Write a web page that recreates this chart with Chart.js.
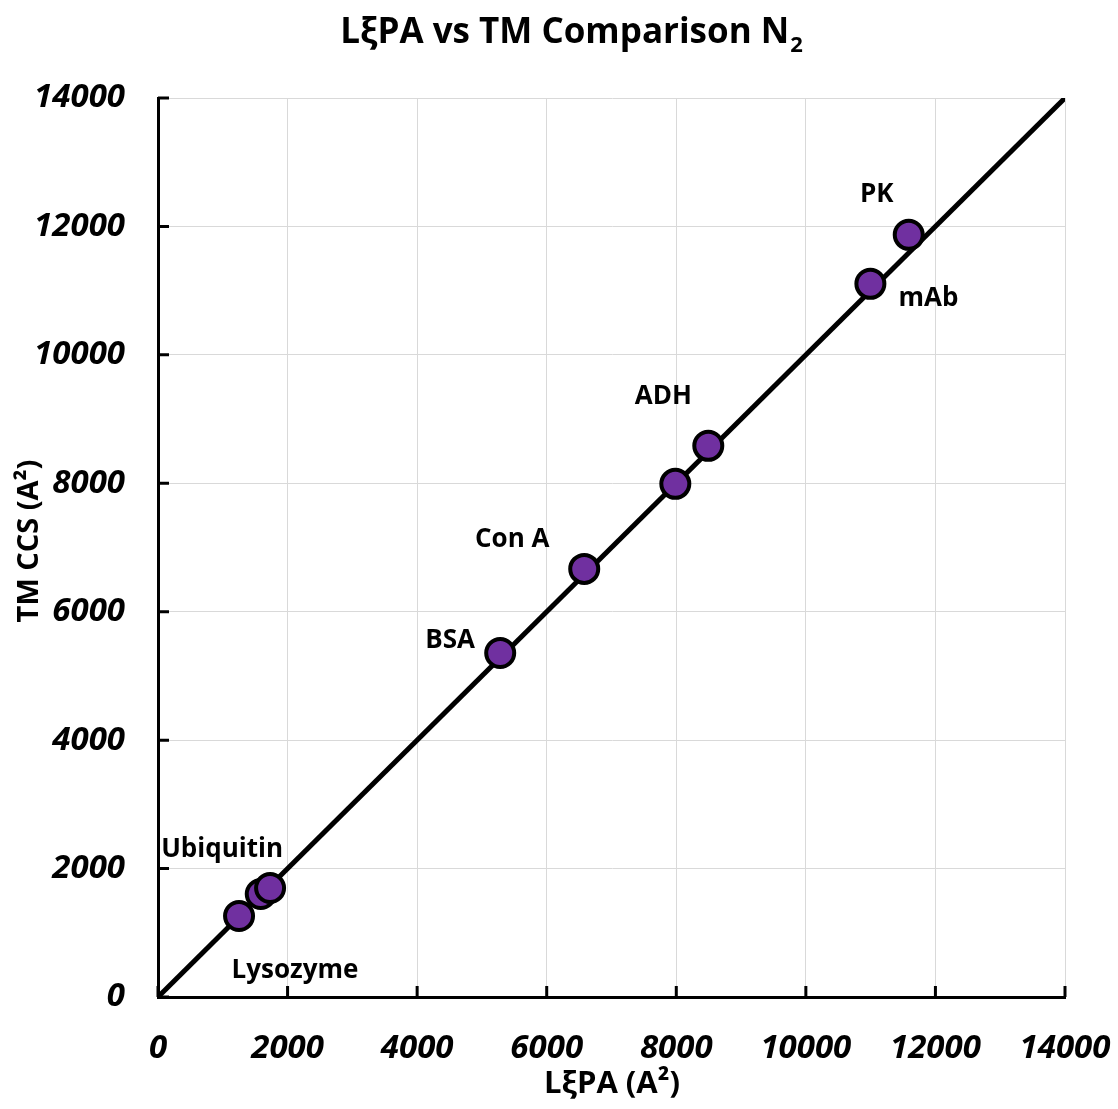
<!DOCTYPE html>
<html>
<head>
<meta charset="utf-8">
<title>LξPA vs TM Comparison N2</title>
<script src="https://cdn.jsdelivr.net/npm/chart.js@4/dist/chart.umd.min.js"></script>
<style>
  html, body { margin: 0; padding: 0; background: #fff; }
  #wrap { width: 1118px; height: 1109px; }
</style>
</head>
<body>
<div id="wrap"><canvas id="cmp"></canvas></div>
<script>
// CCS values (A^2), LξPA on x, trapped mobility on y
const lxpaCCS = [1251, 1586, 1730, 5282, 6579, 7985, 8494, 10996, 11588];
const tmCCS   = [1262, 1604, 1698, 5358, 6667, 7991, 8583, 11106, 11869];
const proteinNames = ['', '', 'Ubiquitin', 'BSA', 'Con A', '', 'ADH', 'mAb', 'PK'];
// where each name sits relative to its point, in px
const nameOffsets = [[0, 0], [0, 0], [-48, -38], [-50, -12], [-72, -29], [0, 0], [-45, -49], [58, 15], [-32, -40]];
// lysozyme label sits under the low cluster
const lysoIndex = 0;
const lysoOffset = [56, 55];

// y = x reference line
const unityLine = [0, 14000];

const axisMin = 0, axisMax = 14000, axisStep = 2000;

const FONT = '"Open Sans", Lato, sans-serif';

// titles drawn by hand so they sit where we want them
const titlesPlugin = {
  id: 'titles',
  afterDraw(chart) {
    const ctx = chart.ctx;
    ctx.save();
    ctx.fillStyle = '#000';
    ctx.textBaseline = 'middle';
    ctx.textAlign = 'center';

    // main title with subscript 2
    ctx.font = 'bold 35px ' + FONT;
    const main = 'LξPA vs TM Comparison N';
    const w = ctx.measureText(main).width;
    ctx.font = 'bold 22px ' + FONT;
    const sw = ctx.measureText('2').width;
    const tx = 571 - (w + sw) / 2;
    ctx.textAlign = 'left';
    ctx.font = 'bold 35px ' + FONT;
    ctx.fillText(main, tx, 33);
    ctx.font = 'bold 22px ' + FONT;
    ctx.fillText('2', tx + w + 1, 46);

    // axis titles
    ctx.textAlign = 'center';
    ctx.font = 'bold 31px ' + FONT;
    ctx.fillText('LξPA (A²)', 612, 1084);
    ctx.font = 'bold 29px ' + FONT;
    ctx.translate(30, 541);
    ctx.rotate(-Math.PI / 2);
    ctx.fillText('TM CCS (A²)', 0, 0);
    ctx.restore();
  }
};

// tick marks pointing into the plot, like the original
const innerTicksPlugin = {
  id: 'innerTicks',
  beforeDatasetsDraw(chart) {
    const ctx = chart.ctx;
    const xs = chart.scales.x, ys = chart.scales.y;
    const area = chart.chartArea;
    ctx.save();
    ctx.strokeStyle = '#000';
    ctx.lineWidth = 3;
    ctx.beginPath();
    for (let v = axisMin; v <= axisMax; v += axisStep) {
      const px = xs.getPixelForValue(v);
      ctx.moveTo(px, area.bottom);
      ctx.lineTo(px, area.bottom - 11);
      const py = ys.getPixelForValue(v);
      ctx.moveTo(area.left, py);
      ctx.lineTo(area.left + 11, py);
    }
    ctx.stroke();
    ctx.restore();
  }
};

// protein names next to the points
const namesPlugin = {
  id: 'names',
  afterDatasetsDraw(chart) {
    const ctx = chart.ctx;
    const meta = chart.getDatasetMeta(1);
    ctx.save();
    ctx.fillStyle = '#000';
    ctx.font = 'bold 26px ' + FONT;
    ctx.textAlign = 'center';
    ctx.textBaseline = 'middle';
    meta.data.forEach((pt, i) => {
      if (!proteinNames[i]) return;
      ctx.fillText(proteinNames[i], pt.x + nameOffsets[i][0], pt.y + nameOffsets[i][1]);
    });
    const lp = meta.data[lysoIndex];
    ctx.fillText('Lysozyme', lp.x + lysoOffset[0], lp.y + lysoOffset[1]);
    ctx.restore();
  }
};

const tickFont = { family: FONT, size: 33, weight: 'bold', style: 'italic' };

const ctx = document.getElementById('cmp');
new Chart(ctx, {
  type: 'scatter',
  data: {
    datasets: [
      {
        type: 'line',
        data: unityLine.map(v => ({ x: v, y: v })),
        borderColor: '#000',
        borderWidth: 5,
        pointRadius: 0,
        fill: false,
        order: 2
      },
      {
        data: lxpaCCS.map((v, i) => ({ x: v, y: tmCCS[i] })),
        backgroundColor: '#7030A0',
        borderColor: '#000',
        borderWidth: 4,
        pointRadius: 14,
        pointHoverRadius: 14,
        order: 1
      }
    ]
  },
  options: {
    responsive: true,
    maintainAspectRatio: false,
    animation: false,
    layout: { padding: { top: 98, right: 53, left: 0, bottom: 0 } },
    plugins: {
      legend: { display: false },
      tooltip: { enabled: false },
      title: { display: false }
    },
    scales: {
      x: {
        type: 'linear',
        min: axisMin,
        max: axisMax,
        afterFit(scale) {
          scale.height = 112;
          scale.paddingLeft = 0;
          scale.paddingRight = 0;
        },
        border: { color: '#000', width: 3 },
        grid: { color: '#d9d9d9', lineWidth: 1, drawTicks: false },
        ticks: {
          stepSize: axisStep,
          padding: 32,
          color: '#000',
          font: tickFont,
          callback: v => String(v)
        }
      },
      y: {
        type: 'linear',
        min: axisMin,
        max: axisMax,
        afterFit(scale) {
          scale.width = 158;
          scale.paddingTop = 0;
          scale.paddingBottom = 0;
        },
        border: { color: '#000', width: 3 },
        grid: { color: '#d9d9d9', lineWidth: 1, drawTicks: false },
        ticks: {
          stepSize: axisStep,
          padding: 33,
          color: '#000',
          font: tickFont,
          callback: v => String(v)
        }
      }
    }
  },
  plugins: [innerTicksPlugin, namesPlugin, titlesPlugin]
});
</script>
</body>
</html>
